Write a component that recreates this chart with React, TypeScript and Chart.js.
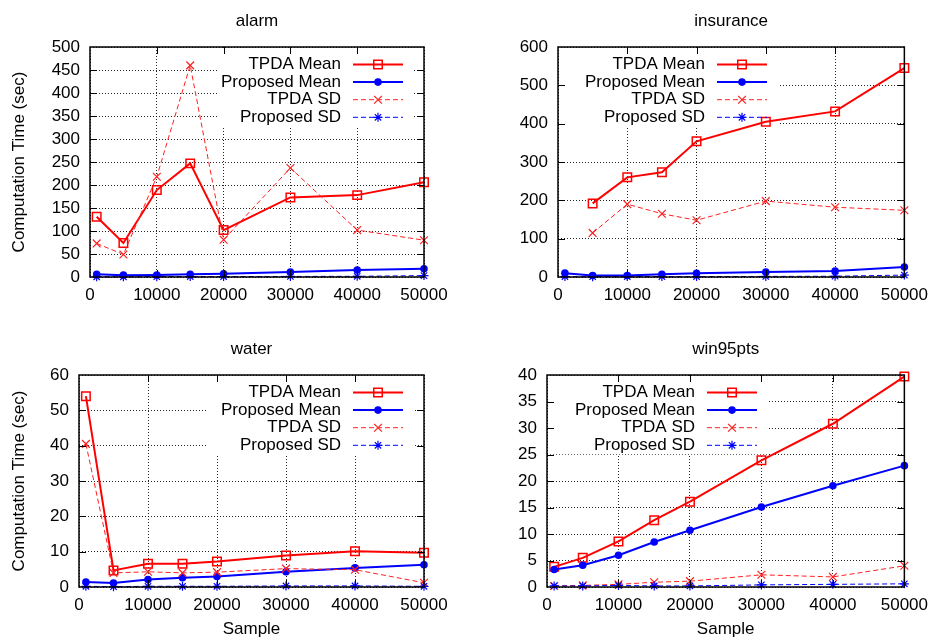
import React, { useEffect, useRef } from 'react';
import { Chart, registerables } from 'chart.js';

Chart.register(...registerables);

// ---------------- data ----------------
const samples = [1000, 5000, 10000, 15000, 20000, 30000, 40000, 50000];
const seriesNames = ['TPDA Mean', 'Proposed Mean', 'TPDA SD', 'Proposed SD'];
const xTickStep = 10000;
const xMax = 50000;
const yAxisTitle = 'Computation Time (sec)';
const xAxisTitle = 'Sample';

const alarmTpdaMean = [131, 74, 189, 247, 102, 173, 178, 206];
const alarmPropMean = [6, 4, 4.5, 6, 7, 11, 15, 18];
const alarmTpdaSd = [73, 49, 218, 460, 81, 237, 102, 80];
const alarmPropSd = [0.5, 0.5, 0.8, 1, 1, 1.2, 1.5, 3];

const insTpdaMean = [null, 192, 260, 273, 354, 405, 432, 545];
const insPropMean = [10, 4, 4, 7, 9.6, 13, 15.7, 26];
const insTpdaSd = [null, 115, 190, 165, 148, 198, 182, 174];
const insPropSd = [1, 0.8, 1, 1, 1, 1.5, 2, 5];

const waterTpdaMean = [54, 4.7, 6.6, 6.6, 7.2, 8.9, 10.1, 9.7];
const waterPropMean = [1.4, 1.1, 2.1, 2.6, 3.0, 4.3, 5.4, 6.3];
const waterTpdaSd = [40.5, 4.0, 4.3, 4.0, 4.2, 5.2, 4.9, 1.2];
const waterPropSd = [0.2, 0.1, 0.2, 0.2, 0.2, 0.3, 0.3, 0.2];

const winTpdaMean = [3.8, 5.5, 8.6, 12.6, 16.1, 23.9, 30.8, 39.7];
const winPropMean = [3.3, 4.1, 6.0, 8.5, 10.7, 15.1, 19.1, 22.9];
const winTpdaSd = [0.2, 0.3, 0.5, 0.9, 1.1, 2.3, 1.9, 4.0];
const winPropSd = [0.2, 0.2, 0.3, 0.2, 0.2, 0.4, 0.5, 0.6];

// ---------------- styling ----------------
const FONT_FAMILY = '"Liberation Sans", Arial, Helvetica, sans-serif';
const FONT_SIZE = 17;
const FONT = `${FONT_SIZE}px ${FONT_FAMILY}`;

type Style = {
  color: string;
  width: number;
  dash: number[];
  point: 'rect' | 'circle' | 'crossRot' | 'star';
  radius: number;
  pbw: number;
  filled: boolean;
};

const STYLES: Style[] = [
  { color: '#ff0000', width: 2, dash: [], point: 'rect', radius: 6, pbw: 1.5, filled: false },
  { color: '#0000ff', width: 2, dash: [], point: 'circle', radius: 3.8, pbw: 0, filled: true },
  { color: '#ff2020', width: 1, dash: [5, 3], point: 'crossRot', radius: 5.5, pbw: 1.2, filled: false },
  { color: '#0000ff', width: 1, dash: [5, 3], point: 'star', radius: 4.5, pbw: 1.2, filled: false },
];

type Panel = {
  title: string;
  left: number;
  top: number;
  yMax: number;
  yStep: number;
  area: { left: number; top: number; right: number; bottom: number };
  titleY: number;
  yTitle: boolean;
  xTitle: boolean;
  legendSide: 'left' | 'right';
  legendOffset: number;
  legendPadLeft: number;
  series: (number | null)[][];
};

const W = 468;
const H = 320;

const PANELS: Panel[] = [
  {
    title: 'alarm', left: 0, top: 0, yMax: 500, yStep: 50,
    area: { left: 90, top: 47, right: 424, bottom: 277 }, titleY: 21.5,
    yTitle: true, xTitle: false, legendSide: 'right', legendOffset: 83, legendPadLeft: 3,
    series: [alarmTpdaMean, alarmPropMean, alarmTpdaSd, alarmPropSd],
  },
  {
    title: 'insurance', left: 468, top: 0, yMax: 600, yStep: 100,
    area: { left: 90, top: 47, right: 442, bottom: 277 }, titleY: 21.5,
    yTitle: false, xTitle: false, legendSide: 'left', legendOffset: 147, legendPadLeft: 60,
    series: [insTpdaMean, insPropMean, insTpdaSd, insPropSd],
  },
  {
    title: 'water', left: 0, top: 320, yMax: 60, yStep: 10,
    area: { left: 79, top: 55, right: 424, bottom: 267 }, titleY: 29.5,
    yTitle: true, xTitle: true, legendSide: 'right', legendOffset: 83, legendPadLeft: 14,
    series: [waterTpdaMean, waterPropMean, waterTpdaSd, waterPropSd],
  },
  {
    title: 'win95pts', left: 468, top: 320, yMax: 40, yStep: 5,
    area: { left: 79, top: 55, right: 442, bottom: 267 }, titleY: 29.5,
    yTitle: false, xTitle: true, legendSide: 'left', legendOffset: 148, legendPadLeft: 60,
    series: [winTpdaMean, winPropMean, winTpdaSd, winPropSd],
  },
];

function drawMarker(ctx: CanvasRenderingContext2D, s: Style, x: number, y: number) {
  ctx.save();
  ctx.setLineDash([]);
  ctx.strokeStyle = s.color;
  ctx.fillStyle = s.color;
  ctx.lineWidth = s.pbw || 1;
  const r = s.radius;
  ctx.beginPath();
  if (s.point === 'rect') {
    const h = r * Math.SQRT1_2;
    ctx.rect(x - h, y - h, 2 * h, 2 * h);
    ctx.stroke();
  } else if (s.point === 'circle') {
    ctx.arc(x, y, r, 0, Math.PI * 2);
    ctx.fill();
  } else if (s.point === 'crossRot') {
    const h = r * Math.SQRT1_2;
    ctx.moveTo(x - h, y - h); ctx.lineTo(x + h, y + h);
    ctx.moveTo(x - h, y + h); ctx.lineTo(x + h, y - h);
    ctx.stroke();
  } else {
    const h = r * Math.SQRT1_2;
    ctx.moveTo(x - r, y); ctx.lineTo(x + r, y);
    ctx.moveTo(x, y - r); ctx.lineTo(x, y + r);
    ctx.moveTo(x - h, y - h); ctx.lineTo(x + h, y + h);
    ctx.moveTo(x - h, y + h); ctx.lineTo(x + h, y - h);
    ctx.stroke();
  }
  ctx.restore();
}

function legendGeom(ctx: CanvasRenderingContext2D, ca: any, p: Panel) {
  ctx.font = FONT;
  const widths = seriesNames.map((n) => ctx.measureText(n).width);
  const maxW = Math.max(...widths);
  const textRight = p.legendSide === 'right' ? ca.right - p.legendOffset : ca.left + p.legendOffset;
  const rowY = (i: number) => ca.top + 17.5 + i * 17.6;
  const boxLeft = Math.max(ca.left + 1, textRight - maxW - p.legendPadLeft);
  const boxRight = textRight + 62 + 11;
  const boxBottom = rowY(3) + 9;
  return { textRight, rowY, boxLeft, boxRight, boxBottom };
}

function PanelChart({ p }: { p: Panel }) {
  const ref = useRef<HTMLCanvasElement>(null);

  useEffect(() => {
    const canvas = ref.current;
    if (!canvas) return;

    const framePlugin = {
      id: 'gnuplotFrame',
      beforeDatasetsDraw(chart: any) {
        const ctx: CanvasRenderingContext2D = chart.ctx;
        const ca = chart.chartArea;
        ctx.save();
        const g = legendGeom(ctx, ca, p);
        ctx.fillStyle = '#ffffff';
        ctx.fillRect(g.boxLeft, ca.top + 1, g.boxRight - g.boxLeft, g.boxBottom - ca.top - 1);
        ctx.restore();
      },
      afterDatasetsDraw(chart: any) {
        const ctx: CanvasRenderingContext2D = chart.ctx;
        const ca = chart.chartArea;
        ctx.save();
        const g = legendGeom(ctx, ca, p);
        seriesNames.forEach((name, i) => {
          const s = STYLES[i];
          const y = g.rowY(i);
          ctx.font = FONT;
          ctx.fillStyle = '#000000';
          ctx.textAlign = 'right';
          ctx.textBaseline = 'middle';
          ctx.fillText(name, g.textRight, y);
          ctx.save();
          ctx.strokeStyle = s.color;
          ctx.lineWidth = s.width;
          ctx.setLineDash(s.dash);
          ctx.beginPath();
          ctx.moveTo(g.textRight + 12, y);
          ctx.lineTo(g.textRight + 62, y);
          ctx.stroke();
          ctx.restore();
          drawMarker(ctx, s, g.textRight + 37, y);
        });
        ctx.restore();
      },
      afterDraw(chart: any) {
        const ctx: CanvasRenderingContext2D = chart.ctx;
        const ca = chart.chartArea;
        const xs = chart.scales.x;
        const ys = chart.scales.y;
        ctx.save();
        ctx.setLineDash([]);
        ctx.strokeStyle = '#000000';
        ctx.lineWidth = 1;
        const tl = 7;
        ctx.beginPath();
        xs.ticks.forEach((t: any) => {
          if (t.value <= 0 || t.value >= xMax) return;
          const x = Math.round(xs.getPixelForValue(t.value)) + 0.5;
          ctx.moveTo(x, ca.bottom); ctx.lineTo(x, ca.bottom - tl);
          ctx.moveTo(x, ca.top); ctx.lineTo(x, ca.top + tl);
        });
        ys.ticks.forEach((t: any) => {
          if (t.value <= 0 || t.value >= p.yMax) return;
          const y = Math.round(ys.getPixelForValue(t.value)) + 0.5;
          ctx.moveTo(ca.left, y); ctx.lineTo(ca.left + tl, y);
          ctx.moveTo(ca.right, y); ctx.lineTo(ca.right - tl, y);
        });
        ctx.stroke();
        ctx.lineWidth = 1.5;
        ctx.strokeRect(ca.left, ca.top, ca.right - ca.left, ca.bottom - ca.top);
        ctx.font = FONT;
        ctx.fillStyle = '#000000';
        ctx.textAlign = 'center';
        ctx.textBaseline = 'middle';
        ctx.fillText(p.title, (ca.left + ca.right) / 2, p.titleY);
        ctx.restore();
      },
    };

    const datasets = p.series.map((arr, i) => {
      const s = STYLES[i];
      const data = samples
        .map((x, j) => ({ x, y: arr[j] }))
        .filter((pt) => pt.y !== null && pt.y !== undefined);
      return {
        label: seriesNames[i],
        data,
        borderColor: s.color,
        backgroundColor: s.color,
        borderWidth: s.width,
        borderDash: s.dash,
        pointStyle: s.point,
        pointRadius: s.radius,
        pointBorderWidth: s.pbw,
        pointBorderColor: s.color,
        pointBackgroundColor: s.filled ? s.color : 'rgba(0,0,0,0)',
        tension: 0,
        fill: false,
        clip: false as any,
        order: 3 - i,
      };
    });

    const chart = new Chart(canvas, {
      type: 'line',
      data: { datasets },
      plugins: [framePlugin],
      options: {
        animation: false,
        responsive: false,
        maintainAspectRatio: false,
        devicePixelRatio: 1,
        events: [],
        layout: {
          padding: { left: 0, top: p.area.top, right: W - p.area.right, bottom: 0 },
        },
        plugins: {
          legend: { display: false },
          title: { display: false },
          tooltip: { enabled: false },
        },
        scales: {
          x: {
            type: 'linear',
            min: 0,
            max: xMax,
            afterFit: (scale: any) => { scale.height = H - p.area.bottom; },
            ticks: {
              stepSize: xTickStep,
              autoSkip: false,
              maxRotation: 0,
              padding: 8,
              color: '#000000',
              font: { family: FONT_FAMILY, size: FONT_SIZE },
              callback: (v: any) => String(v),
            },
            grid: { color: 'rgba(0,0,0,0.85)', lineWidth: 1, drawTicks: false },
            border: { display: false, dash: [1, 2] },
            title: {
              display: p.xTitle,
              text: xAxisTitle,
              color: '#000000',
              font: { family: FONT_FAMILY, size: FONT_SIZE },
              padding: { top: 0, bottom: 0 },
            },
          },
          y: {
            type: 'linear',
            min: 0,
            max: p.yMax,
            afterFit: (scale: any) => { scale.width = p.area.left; },
            ticks: {
              stepSize: p.yStep,
              autoSkip: false,
              padding: 10,
              color: '#000000',
              font: { family: FONT_FAMILY, size: FONT_SIZE },
              callback: (v: any) => String(v),
            },
            grid: { color: 'rgba(0,0,0,0.85)', lineWidth: 1, drawTicks: false },
            border: { display: false, dash: [1, 2] },
            title: {
              display: p.yTitle,
              text: yAxisTitle,
              color: '#000000',
              font: { family: FONT_FAMILY, size: FONT_SIZE },
              padding: { top: 9, bottom: 0 },
            },
          },
        },
      } as any,
    });

    return () => chart.destroy();
  }, [p]);

  return (
    <canvas
      ref={ref}
      width={W}
      height={H}
      style={{ position: 'absolute', left: p.left, top: p.top, width: W, height: H }}
    />
  );
}

export default function App() {
  return (
    <div style={{ position: 'absolute', left: 0, top: 0, width: 936, height: 640, background: '#ffffff', overflow: 'hidden' }}>
      {PANELS.map((p) => (
        <PanelChart key={p.title} p={p} />
      ))}
    </div>
  );
}
